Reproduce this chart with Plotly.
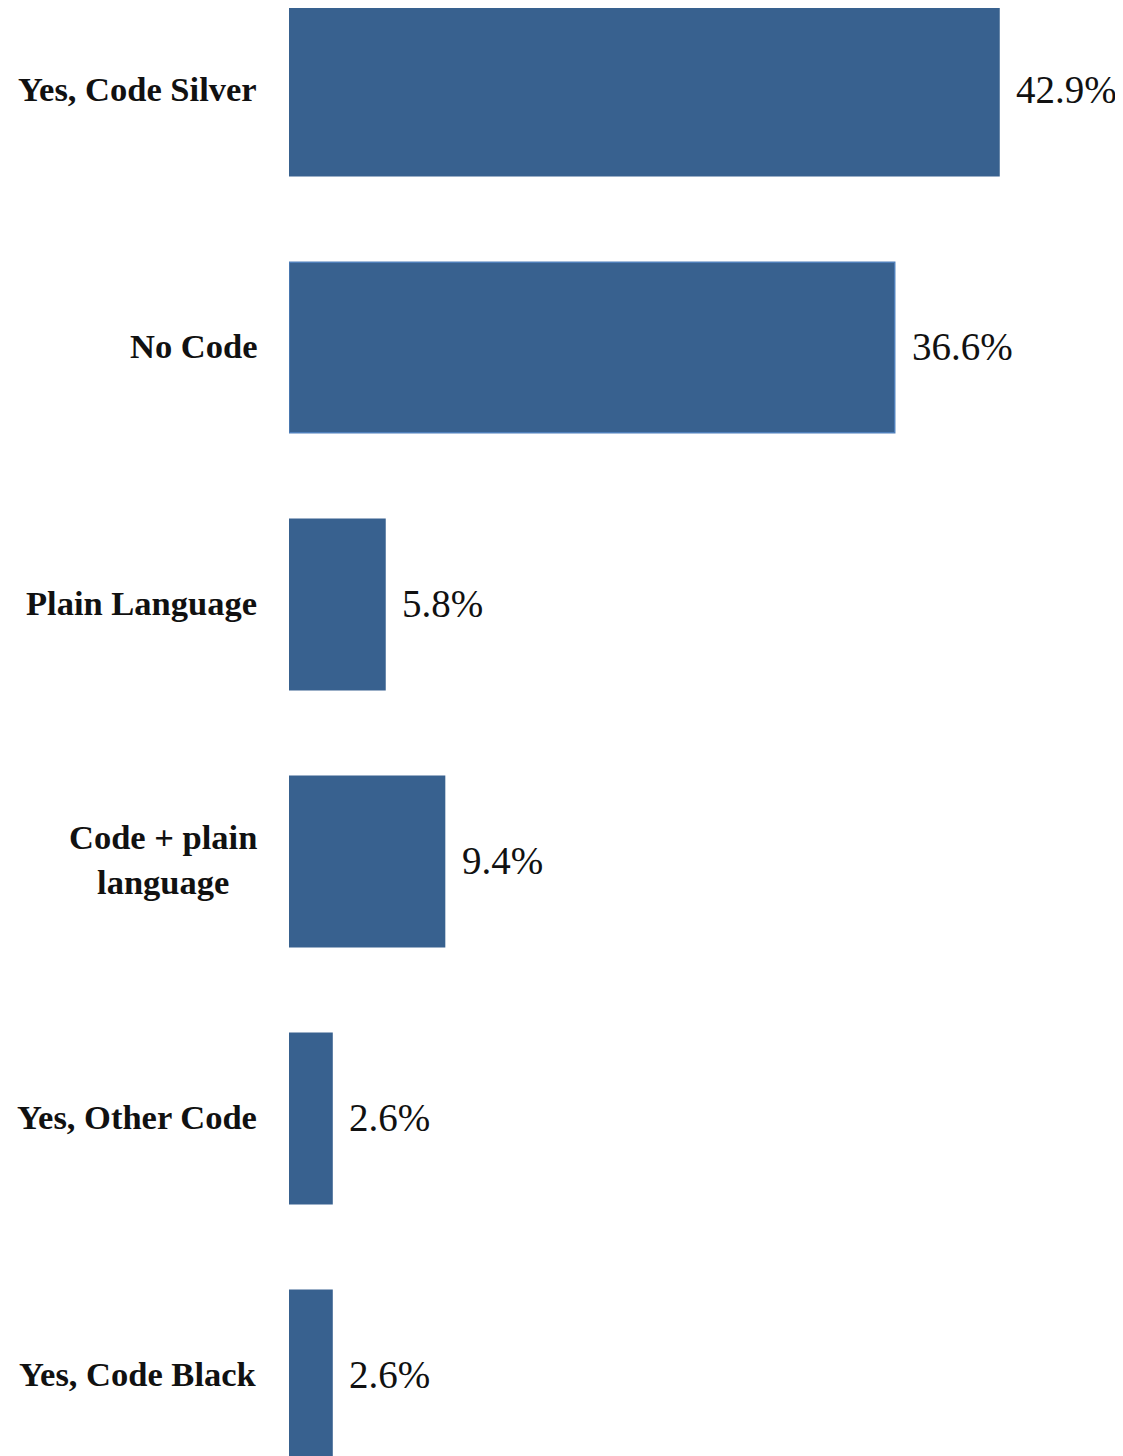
import plotly.graph_objects as go

categories = ["Yes, Code Silver", "No Code", "Plain Language",
              "Code + plain<br>language", "Yes, Other Code", "Yes, Code Black"]
values = [42.9, 36.6, 5.8, 9.4, 2.6, 2.6]
value_labels = ["42.9%", "36.6%", "5.8%", "9.4%", "2.6%", "2.6%"]

bar_color = "#38618F"
line_colors = [bar_color, "#4F7FBA", bar_color, bar_color, bar_color, bar_color]
FONT = "Liberation Serif"

fig = go.Figure()
fig.add_trace(go.Bar(
    x=values, y=categories, orientation="h",
    marker=dict(color=bar_color, line=dict(color=line_colors, width=1.5)),
    width=0.664, hoverinfo="skip",
))

annotations = []
for cat, v, lab in zip(categories, values, value_labels):
    annotations.append(dict(x=v, y=cat, xref="x", yref="y", text=lab,
                            showarrow=False, xanchor="left", xshift=15, yshift=1,
                            font=dict(family=FONT, size=39, color="#111111")))
    annotations.append(dict(x=0, y=cat, xref="paper", yref="y", text="<b>" + cat + "</b>",
                            showarrow=False, xanchor="right", xshift=-30, yshift=2, align="center",
                            font=dict(family=FONT, size=34.5, color="#111111")))

# page has an 8px body margin
W, H = 1115, 1448
left = 281
plot_w = W - left
px_per_unit = 710 / 42.9
first_center = 82.5
step = 257

fig.update_layout(
    width=W, height=H,
    margin=dict(l=left, r=0, t=0, b=0),
    paper_bgcolor="white", plot_bgcolor="white",
    showlegend=False,
    annotations=annotations,
    xaxis=dict(range=[0, plot_w / px_per_unit], visible=False, showgrid=False, zeroline=False),
    yaxis=dict(categoryorder="array", categoryarray=categories,
               range=[(H - first_center) / step, -first_center / step],
               showticklabels=False, showgrid=False, zeroline=False, showline=False),
)

fig.write_html("out.html")
